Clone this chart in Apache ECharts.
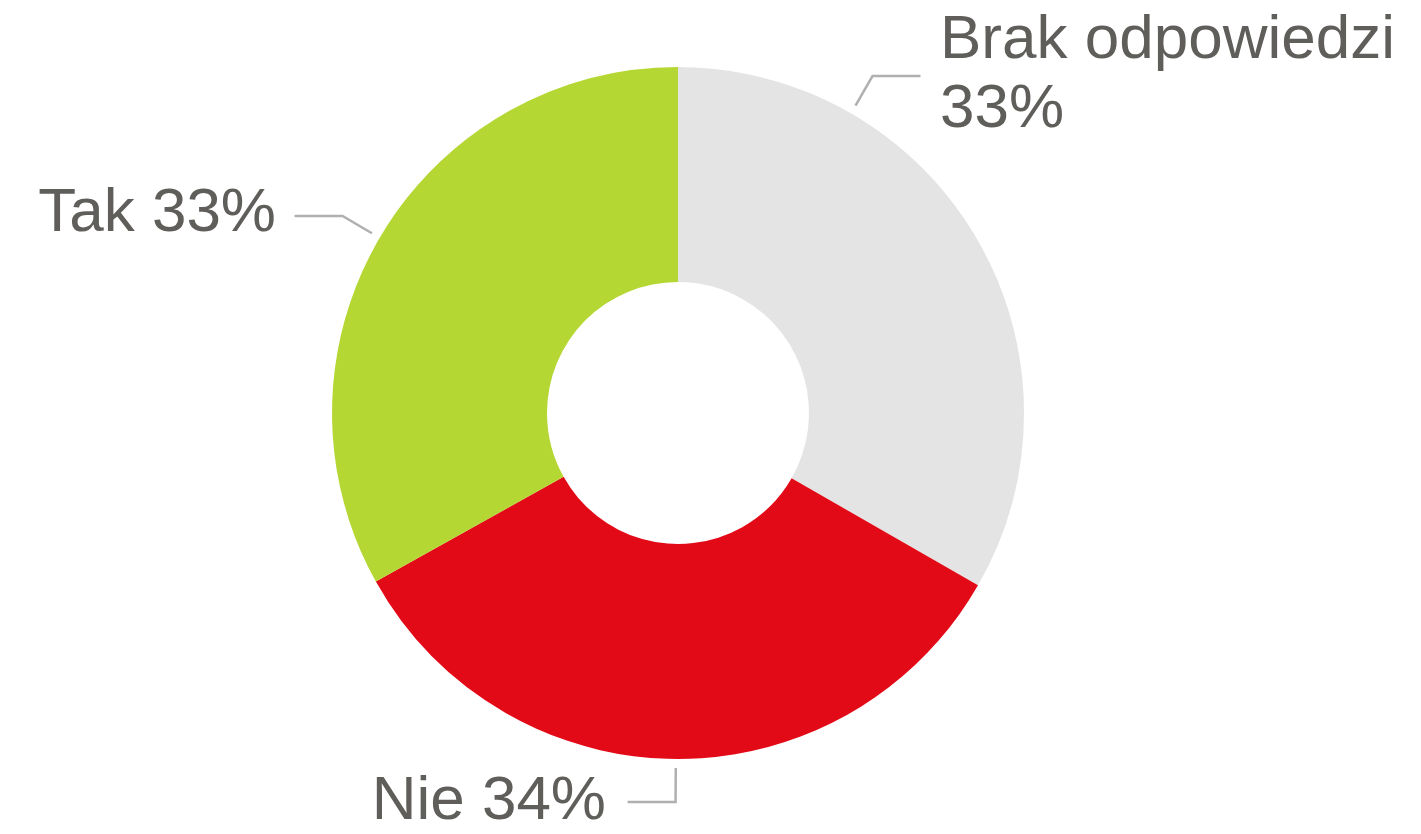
<!DOCTYPE html>
<html>
<head>
<meta charset="utf-8">
<style>
  html, body { margin: 0; padding: 0; background: #fff; }
  #chart { width: 1421px; height: 834px; }
</style>
<script src="https://cdn.jsdelivr.net/npm/echarts@6/dist/echarts.min.js"></script>
</head>
<body>
<div id="chart"></div>
<script>
const categories = ['Brak odpowiedzi', 'Nie', 'Tak'];
const values = [33.3, 33.6, 33.1];
const shownPercent = [33, 34, 33];
const colors = ['#e3e4e3', '#e30a17', '#b5d733'];

// pie geometry (px)
const cx = 678, cy = 413, rIn = 131, rOut = 346;

// where each label sits and which way its leader goes
const labelSpots = [
    { x: 940, y: 75, align: 'left', leaderAngle: 60, side: 1 },
    { x: 606, y: 802, align: 'right', leaderAngle: null, side: -1 },
    { x: 276, y: 214, align: 'right', leaderAngle: null, side: -1 }
];

const total = values.reduce((a, b) => a + b, 0);
function midAngle(i) {
    let start = 90;
    for (let k = 0; k < i; k++) start -= values[k] / total * 360;
    return start - values[i] / total * 180;
}

const chart = echarts.init(document.getElementById('chart'));

const option = {
    animation: false,
    series: [{
        type: 'pie',
        center: [cx, cy],
        radius: [rIn, rOut],
        startAngle: 90,
        clockwise: true,
        data: categories.map((name, i) => ({
            name: name,
            value: values[i],
            itemStyle: { color: colors[i] }
        })),
        label: {
            show: true,
            position: 'outside',
            overflow: 'none',
            fontFamily: '"Liberation Sans", Arial, sans-serif',
            fontSize: 62,
            lineHeight: 69,
            color: '#5f5e5b',
            formatter: p => {
                const t = shownPercent[p.dataIndex] + '%';
                return p.dataIndex === 0 ? p.name + '\n' + t : p.name + ' ' + t;
            }
        },
        labelLine: {
            show: true,
            lineStyle: { color: '#b0b0b0', width: 2.5 }
        },
        labelLayout: params => {
            const i = params.dataIndex;
            const s = labelSpots[i];
            const a = (s.leaderAngle != null ? s.leaderAngle : midAngle(i)) * Math.PI / 180;
            const p1 = [cx + 355 * Math.cos(a), cy - 355 * Math.sin(a)];
            const p2 = [cx + 389 * Math.cos(a), cy - 389 * Math.sin(a)];
            const p3 = [p2[0] + s.side * 48, p2[1]];
            return {
                x: s.x,
                y: s.y,
                align: s.align,
                verticalAlign: 'middle',
                labelLinePoints: [p1, p2, p3]
            };
        }
    }]
};

chart.setOption(option);
window.addEventListener('resize', () => chart.resize());
</script>
</body>
</html>
